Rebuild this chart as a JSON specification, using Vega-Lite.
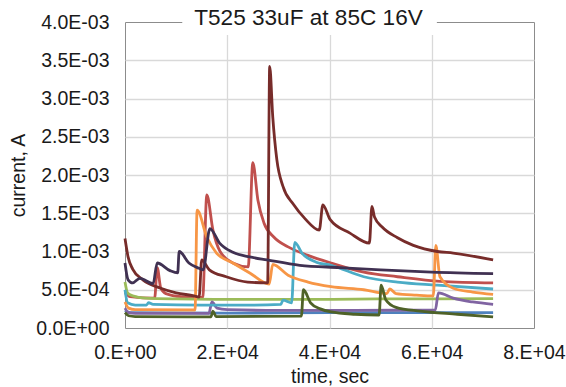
{
  "$schema": "https://vega.github.io/schema/vega-lite/v6.json",
  "width": 409,
  "height": 306,
  "autosize": {"type": "none"},
  "padding": {"left": 125, "top": 22, "right": 32, "bottom": 59},
  "background": "white",
  "title": {"text": "T525 33uF at 85C 16V", "fontSize": 22.6, "font": "Liberation Sans", "fontWeight": "normal", "color": "#1a1a1a", "anchor": "middle", "frame": "group", "dx": -21, "offset": -12, "dy": 24, "baseline": "alphabetic"},
  "config": {
    "view": {"stroke": "#8c8c8c", "strokeWidth": 1},
    "axis": {"labelFont": "Liberation Sans", "titleFont": "Liberation Sans", "labelFontSize": 19.5, "titleFontSize": 19.5, "titleFontWeight": "normal", "labelColor": "#1a1a1a", "titleColor": "#1a1a1a", "ticks": false, "domain": false, "gridColor": "#d9d9d9", "gridWidth": 1.3, "labelOverlap": false, "labelFlush": false, "labelBound": false}
  },
  "datasets": {
    "curves": [
      {"s":"S1","t":0,"i":0.00023},{"s":"S1","t":1000,"i":0.0002},{"s":"S1","t":20000,"i":0.000195},{"s":"S1","t":40000,"i":0.0002},{"s":"S1","t":60000,"i":0.0002},{"s":"S1","t":72000,"i":0.0002},
      {"s":"S2","t":0,"i":0.00046},{"s":"S2","t":1000,"i":0.00041},{"s":"S2","t":5800,"i":0.00039},{"s":"S2","t":6300,"i":0.00079},{"s":"S2","t":7000,"i":0.00052},{"s":"S2","t":8000,"i":0.00045},{"s":"S2","t":11000,"i":0.00041},{"s":"S2","t":15200,"i":0.0004},{"s":"S2","t":16000,"i":0.00174},{"s":"S2","t":17200,"i":0.00128},{"s":"S2","t":18600,"i":0.001},{"s":"S2","t":21100,"i":0.00085},{"s":"S2","t":24100,"i":0.0008},{"s":"S2","t":25000,"i":0.00216},{"s":"S2","t":26000,"i":0.00167},{"s":"S2","t":27200,"i":0.00137},{"s":"S2","t":29100,"i":0.00119},{"s":"S2","t":31900,"i":0.00106},{"s":"S2","t":35800,"i":0.00095},{"s":"S2","t":40300,"i":0.00085},{"s":"S2","t":46700,"i":0.00073},{"s":"S2","t":53300,"i":0.00067},{"s":"S2","t":61700,"i":0.00061},{"s":"S2","t":72000,"i":0.00059},
      {"s":"S3","t":0,"i":0.0006},{"s":"S3","t":500,"i":0.00046},{"s":"S3","t":1500,"i":0.00042},{"s":"S3","t":4000,"i":0.00039},{"s":"S3","t":10000,"i":0.00038},{"s":"S3","t":20000,"i":0.000375},{"s":"S3","t":30000,"i":0.000375},{"s":"S3","t":40000,"i":0.000375},{"s":"S3","t":50000,"i":0.00038},{"s":"S3","t":60000,"i":0.00038},{"s":"S3","t":72000,"i":0.000385},
      {"s":"S4","t":0,"i":0.00026},{"s":"S4","t":700,"i":0.0002},{"s":"S4","t":2000,"i":0.00019},{"s":"S4","t":16400,"i":0.00019},{"s":"S4","t":17000,"i":0.00034},{"s":"S4","t":18000,"i":0.00026},{"s":"S4","t":20000,"i":0.00024},{"s":"S4","t":30000,"i":0.00023},{"s":"S4","t":45000,"i":0.00023},{"s":"S4","t":60700,"i":0.000235},{"s":"S4","t":61300,"i":0.00046},{"s":"S4","t":64200,"i":0.00039},{"s":"S4","t":68000,"i":0.00034},{"s":"S4","t":72000,"i":0.00031},
      {"s":"S5","t":0,"i":0.0005},{"s":"S5","t":500,"i":0.00033},{"s":"S5","t":2000,"i":0.0003},{"s":"S5","t":4200,"i":0.0003},{"s":"S5","t":4600,"i":0.00033},{"s":"S5","t":5500,"i":0.00031},{"s":"S5","t":15000,"i":0.0003},{"s":"S5","t":25000,"i":0.0003},{"s":"S5","t":30500,"i":0.00031},{"s":"S5","t":30900,"i":0.000365},{"s":"S5","t":32600,"i":0.00033},{"s":"S5","t":33200,"i":0.00112},{"s":"S5","t":34600,"i":0.00098},{"s":"S5","t":37400,"i":0.00086},{"s":"S5","t":40300,"i":0.00082},{"s":"S5","t":46700,"i":0.00067},{"s":"S5","t":53300,"i":0.0006},{"s":"S5","t":61100,"i":0.00056},{"s":"S5","t":72000,"i":0.00051},
      {"s":"S6","t":0,"i":0.00034},{"s":"S6","t":700,"i":0.00026},{"s":"S6","t":2000,"i":0.00024},{"s":"S6","t":13700,"i":0.000235},{"s":"S6","t":14100,"i":0.00154},{"s":"S6","t":16000,"i":0.00119},{"s":"S6","t":17900,"i":0.00098},{"s":"S6","t":21100,"i":0.00085},{"s":"S6","t":24400,"i":0.00072},{"s":"S6","t":28200,"i":0.000575},{"s":"S6","t":28900,"i":0.00083},{"s":"S6","t":31900,"i":0.00069},{"s":"S6","t":35800,"i":0.0006},{"s":"S6","t":40300,"i":0.00054},{"s":"S6","t":46700,"i":0.0005},{"s":"S6","t":51200,"i":0.00045},{"s":"S6","t":51800,"i":0.00051},{"s":"S6","t":53000,"i":0.00045},{"s":"S6","t":57000,"i":0.00043},{"s":"S6","t":60300,"i":0.00042},{"s":"S6","t":60800,"i":0.00108},{"s":"S6","t":61600,"i":0.00067},{"s":"S6","t":64200,"i":0.00052},{"s":"S6","t":68000,"i":0.00047},{"s":"S6","t":72000,"i":0.00044},
      {"s":"S7","t":0,"i":0.00117},{"s":"S7","t":600,"i":0.00093},{"s":"S7","t":1500,"i":0.00077},{"s":"S7","t":3500,"i":0.00063},{"s":"S7","t":7000,"i":0.00052},{"s":"S7","t":10000,"i":0.00046},{"s":"S7","t":13500,"i":0.00042},{"s":"S7","t":14500,"i":0.000405},{"s":"S7","t":15000,"i":0.00089},{"s":"S7","t":16500,"i":0.00076},{"s":"S7","t":19800,"i":0.00067},{"s":"S7","t":24000,"i":0.0006},{"s":"S7","t":27900,"i":0.00059},{"s":"S7","t":28300,"i":0.00342},{"s":"S7","t":28900,"i":0.00276},{"s":"S7","t":29700,"i":0.0022},{"s":"S7","t":30900,"i":0.00185},{"s":"S7","t":32900,"i":0.00162},{"s":"S7","t":35200,"i":0.00143},{"s":"S7","t":38000,"i":0.00128},{"s":"S7","t":38700,"i":0.00161},{"s":"S7","t":40100,"i":0.00142},{"s":"S7","t":44000,"i":0.00124},{"s":"S7","t":47800,"i":0.00111},{"s":"S7","t":48300,"i":0.00159},{"s":"S7","t":48800,"i":0.00145},{"s":"S7","t":50300,"i":0.00132},{"s":"S7","t":53300,"i":0.00118},{"s":"S7","t":56400,"i":0.00108},{"s":"S7","t":61100,"i":0.001},{"s":"S7","t":64200,"i":0.00098},{"s":"S7","t":72000,"i":0.00089},
      {"s":"S8","t":0,"i":0.0002},{"s":"S8","t":700,"i":0.00016},{"s":"S8","t":2000,"i":0.00015},{"s":"S8","t":16800,"i":0.000145},{"s":"S8","t":17200,"i":0.00022},{"s":"S8","t":17800,"i":0.00015},{"s":"S8","t":34500,"i":0.000155},{"s":"S8","t":34900,"i":0.0005},{"s":"S8","t":36300,"i":0.00033},{"s":"S8","t":38200,"i":0.00025},{"s":"S8","t":40300,"i":0.00021},{"s":"S8","t":45000,"i":0.00018},{"s":"S8","t":49700,"i":0.00017},{"s":"S8","t":50100,"i":0.00056},{"s":"S8","t":51000,"i":0.00037},{"s":"S8","t":53000,"i":0.00027},{"s":"S8","t":57700,"i":0.00022},{"s":"S8","t":65000,"i":0.00018},{"s":"S8","t":72000,"i":0.000145},
      {"s":"S9","t":0,"i":0.00085},{"s":"S9","t":600,"i":0.00063},{"s":"S9","t":1500,"i":0.00059},{"s":"S9","t":2900,"i":0.00065},{"s":"S9","t":5500,"i":0.00058},{"s":"S9","t":6300,"i":0.00085},{"s":"S9","t":8800,"i":0.00075},{"s":"S9","t":10300,"i":0.00072},{"s":"S9","t":10600,"i":0.001},{"s":"S9","t":12500,"i":0.00085},{"s":"S9","t":14500,"i":0.00078},{"s":"S9","t":15300,"i":0.00076},{"s":"S9","t":16600,"i":0.0013},{"s":"S9","t":18500,"i":0.00111},{"s":"S9","t":21100,"i":0.00099},{"s":"S9","t":24400,"i":0.00093},{"s":"S9","t":27800,"i":0.00089},{"s":"S9","t":34200,"i":0.00082},{"s":"S9","t":42000,"i":0.00079},{"s":"S9","t":50000,"i":0.00076},{"s":"S9","t":60000,"i":0.00073},{"s":"S9","t":72000,"i":0.00071}
    ]
  },
  "layer": [
    {
      "data": {"name": "curves"},
      "mark": {"type": "line", "strokeWidth": 2.8, "interpolate": "monotone"},
      "encoding": {
        "x": {"field": "t", "type": "quantitative", "title": "time, sec", "scale": {"domain": [0, 80000], "nice": false},
              "axis": {"values": [0, 20000, 40000, 60000, 80000], "labelPadding": 15, "titlePadding": 6, "labelOverlap": false, "labelFlush": false, "labelExpr": "datum.value == 0 ? '0.E+00' : format(datum.value / 10000, '.0f') + '.E+04'",
                       "gridOpacity": {"condition": {"test": "datum.value <= 0 || datum.value >= 80000", "value": 0}, "value": 1}}},
        "y": {"field": "i", "type": "quantitative", "title": "current, A", "scale": {"domain": [0, 0.004], "nice": false},
              "axis": {"values": [0, 0.0005, 0.001, 0.0015, 0.002, 0.0025, 0.003, 0.0035, 0.004], "labelPadding": 16, "titlePadding": 7, "labelOverlap": false, "labelFlush": false,
                       "labelExpr": "datum.value == 0 ? '0.0E+00' : datum.value < 0.00099 ? format(datum.value * 10000, '.1f') + 'E-04' : format(datum.value * 1000, '.1f') + 'E-03'",
                       "gridOpacity": {"condition": {"test": "datum.value <= 0 || datum.value >= 0.0039", "value": 0}, "value": 1}}},
        "color": {"field": "s", "type": "nominal", "legend": null,
                  "scale": {"domain": ["S1","S2","S3","S4","S5","S6","S7","S8","S9"],
                            "range": ["#4F81BD","#C0504D","#9BBB59","#8064A2","#4BACC6","#F79646","#772C2A","#4F6228","#403152"]}}
      }
    },
    {
      "data": {"values": [{}]},
      "mark": {"type": "rect", "color": "white"},
      "encoding": {
        "x": {"datum": 11200, "type": "quantitative", "title": "time, sec",
              "axis": {"values": [0, 20000, 40000, 60000, 80000], "labelPadding": 15, "titlePadding": 6, "labelOverlap": false, "labelFlush": false, "labelExpr": "datum.value == 0 ? '0.E+00' : format(datum.value / 10000, '.0f') + '.E+04'",
                       "gridOpacity": {"condition": {"test": "datum.value <= 0 || datum.value >= 80000", "value": 0}, "value": 1}}},
        "x2": {"datum": 61000},
        "y": {"datum": 0.00383, "type": "quantitative", "title": "current, A",
              "axis": {"values": [0, 0.0005, 0.001, 0.0015, 0.002, 0.0025, 0.003, 0.0035, 0.004], "labelPadding": 16, "titlePadding": 7, "labelOverlap": false, "labelFlush": false,
                       "labelExpr": "datum.value == 0 ? '0.0E+00' : datum.value < 0.00099 ? format(datum.value * 10000, '.1f') + 'E-04' : format(datum.value * 1000, '.1f') + 'E-03'",
                       "gridOpacity": {"condition": {"test": "datum.value <= 0 || datum.value >= 0.0039", "value": 0}, "value": 1}}},
        "y2": {"datum": 0.0041}
      }
    }
  ]
}
